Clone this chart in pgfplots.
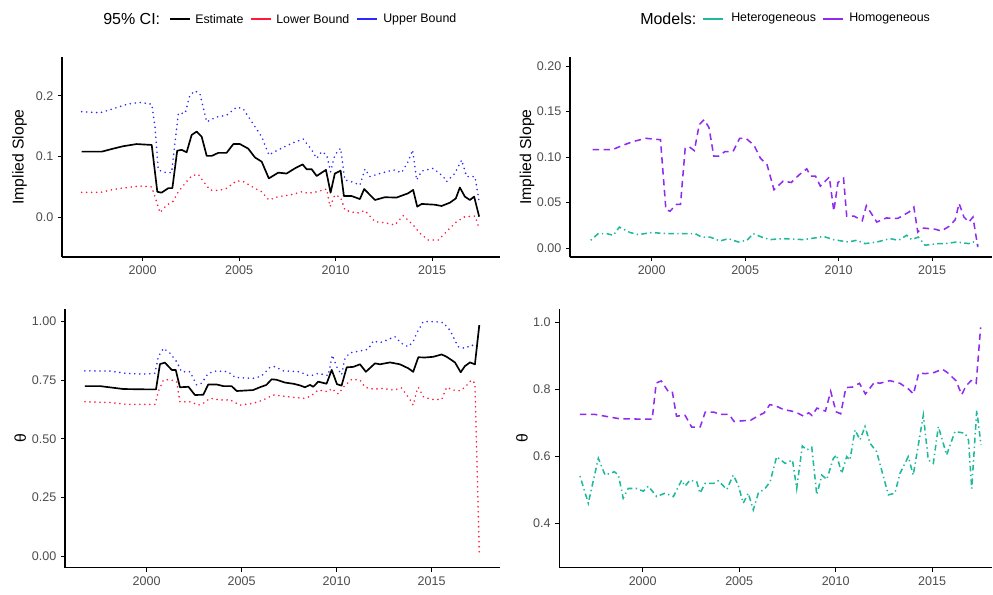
\documentclass[border=0pt]{standalone}
\usepackage{fontspec}
\setmainfont{Liberation Sans}
\usepackage{pgfplots}
\pgfplotsset{compat=1.18}

\definecolor{tickgray}{HTML}{4D4D4D}
\definecolor{cired}{HTML}{FF1A3C}
\definecolor{ciblue}{HTML}{2A2AFF}
\definecolor{hetero}{HTML}{1DB99A}
\definecolor{homo}{HTML}{8F2BF0}

\pgfplotsset{
  panel/.style={
    scale only axis,
    anchor=south west,
    axis x line*=bottom, axis y line*=left,
    axis line style={-, black, line width=0.9pt},
    tick align=outside,
    major tick length=3pt,
    tick style={black, line width=0.7pt},
    xtick={2000,2005,2010,2015},
    xticklabels={2000,2005,2010,2015},
    tick label style={font=\fontsize{9.4}{10}\selectfont, text=tickgray},
    label style={font=\fontsize{11.8}{13}\selectfont},
  },
  est/.style={black, line width=1.25pt, line join=round},
  cidot/.style={line width=1.35pt, line cap=round, dash pattern=on 0pt off 3.75pt},
  homline/.style={homo, line width=1.15pt, dash pattern=on 4.8pt off 3.4pt},
  hetline/.style={hetero, line width=1.15pt, dash pattern=on 1pt off 2.5pt on 4.2pt off 2.5pt},
}

\begin{document}
\begin{tikzpicture}
\useasboundingbox (0,0) rectangle (744.75pt,445.5pt);

% ---------- legends ----------
\begin{scope}[every node/.style={inner sep=0pt, anchor=west}]
  \node at (77.25pt,431.25pt) {\fontsize{12}{14}\selectfont 95\% CI:};
  \draw[black, line width=1.2pt] (127.5pt,431.25pt) -- (142.5pt,431.25pt);
  \node at (146.25pt,431.25pt) {\fontsize{9.3}{11}\selectfont Estimate};
  \draw[cired, line width=1.2pt] (188.25pt,431.25pt) -- (203.25pt,431.25pt);
  \node at (207pt,431.25pt) {\fontsize{9.3}{11}\selectfont Lower Bound};
  \draw[ciblue, line width=1.2pt] (267.75pt,431.25pt) -- (282.75pt,431.25pt);
  \node at (287.25pt,431.25pt) {\fontsize{9.3}{11}\selectfont Upper Bound};

  \node at (480pt,431.25pt) {\fontsize{12}{14}\selectfont Models:};
  \draw[hetero, line width=1.2pt] (527.25pt,431.25pt) -- (542.25pt,431.25pt);
  \node at (548.25pt,431.25pt) {\fontsize{9.3}{11}\selectfont Heterogeneous};
  \draw[homo, line width=1.2pt] (617.25pt,431.25pt) -- (632.25pt,431.25pt);
  \node at (636.75pt,431.25pt) {\fontsize{9.3}{11}\selectfont Homogeneous};
\end{scope}

% ---------- implied slope with confidence band ----------
\begin{axis}[panel,
  at={(46.5pt,252.75pt)}, width=328.5pt, height=150pt,
  xmin=1995.82, xmax=2018.52, ymin=-0.0653, ymax=0.2637,
  ytick={0,0.1,0.2}, yticklabels={0.0,0.1,0.2},
  ylabel={Implied Slope},
  ylabel style={at={(axis description cs:-0.097,0.5)}, anchor=center},
]
\addplot[cidot, ciblue] coordinates {
(1996.84,0.1737) (1997.80,0.172) (1998.50,0.179) (1999.20,0.186) (1999.86,0.189)
(2000.47,0.186) (2000.64,0.149) (2000.81,0.078) (2001.20,0.0735) (2001.50,0.0735)
(2001.85,0.171) (2002.20,0.171) (2002.45,0.201) (2002.71,0.208) (2002.97,0.203)
(2003.32,0.157) (2003.83,0.165) (2004.35,0.168) (2004.87,0.181) (2005.20,0.179)
(2005.82,0.149) (2006.17,0.1325) (2006.54,0.1025) (2007.03,0.111) (2007.55,0.119)
(2007.80,0.1227) (2008.32,0.1288) (2008.76,0.111) (2009.02,0.097) (2009.28,0.108)
(2009.54,0.1025) (2009.74,0.075) (2009.96,0.1025) (2010.26,0.1135) (2010.48,0.0615)
(2010.83,0.0585) (2011.26,0.053) (2011.52,0.0795) (2011.78,0.067) (2012.30,0.072)
(2012.99,0.078) (2013.42,0.0735) (2013.76,0.0915) (2013.99,0.1107) (2014.20,0.0614)
(2014.46,0.076) (2015.06,0.0805) (2015.58,0.067) (2015.75,0.0586) (2016.18,0.0724)
(2016.53,0.0942) (2016.79,0.067) (2017.05,0.067) (2017.22,0.067) (2017.44,0.026)
};
\addplot[cidot, cired] coordinates {
(1996.84,0.041) (1997.80,0.041) (1998.50,0.046) (1999.20,0.049) (1999.86,0.0515)
(2000.47,0.050) (2000.72,0.0257) (2000.90,0.0076) (2001.24,0.020) (2001.56,0.0257)
(2001.85,0.042) (2002.20,0.056) (2002.54,0.068) (2002.88,0.071) (2003.10,0.061)
(2003.49,0.045) (2003.92,0.044) (2004.35,0.0477) (2004.87,0.060) (2005.20,0.059)
(2005.73,0.0493) (2006.17,0.042) (2006.54,0.0285) (2007.03,0.034) (2007.63,0.0367)
(2008.24,0.042) (2008.59,0.0395) (2009.02,0.042) (2009.54,0.0465) (2009.71,0.0175)
(2009.96,0.0367) (2010.26,0.033) (2010.48,0.012) (2011.09,0.0066) (2011.52,0.011)
(2012.04,-0.0072) (2012.55,-0.0089) (2013.07,-0.0127) (2013.50,0.0027) (2014.02,-0.0127)
(2014.37,-0.0263) (2014.80,-0.0373) (2015.32,-0.0373) (2015.58,-0.029) (2015.92,-0.018)
(2016.27,-0.0072) (2016.70,0.001) (2017.22,0.002) (2017.44,-0.018)
};
\addplot[est] coordinates {
(1996.84,0.108) (1997.88,0.108) (1998.48,0.113) (1999.00,0.117) (1999.69,0.1205)
(2000.47,0.119) (2000.76,0.042) (2000.98,0.0405) (2001.33,0.048) (2001.54,0.048)
(2001.79,0.1095) (2002.02,0.111) (2002.28,0.107) (2002.54,0.1355) (2002.80,0.141)
(2003.06,0.1325) (2003.32,0.101) (2003.58,0.101) (2003.92,0.106) (2004.35,0.106)
(2004.70,0.1205) (2005.04,0.1205) (2005.47,0.113) (2005.82,0.0985) (2006.17,0.0915)
(2006.54,0.064) (2007.03,0.0735) (2007.46,0.072) (2007.89,0.0805) (2008.29,0.087)
(2008.50,0.079) (2008.76,0.079) (2009.02,0.068) (2009.50,0.078) (2009.74,0.0405)
(2009.96,0.072) (2010.26,0.0767) (2010.43,0.035) (2010.83,0.035) (2011.26,0.030)
(2011.48,0.0465) (2012.04,0.0285) (2012.55,0.033) (2013.16,0.0325) (2013.76,0.0395)
(2014.02,0.045) (2014.23,0.0175) (2014.46,0.022) (2015.15,0.0207) (2015.49,0.0186)
(2015.92,0.024) (2016.23,0.031) (2016.44,0.049) (2016.70,0.034) (2016.96,0.0285)
(2017.18,0.034) (2017.44,0.001)
};
\end{axis}

% ---------- implied slope by model ----------
\begin{axis}[panel,
  at={(427.5pt,252.75pt)}, width=316.5pt, height=150pt,
  xmin=1995.63, xmax=2018.2, ymin=-0.0099, ymax=0.2099,
  ytick={0,0.05,0.1,0.15,0.2}, yticklabels={0.00,0.05,0.10,0.15,0.20},
  ylabel={Implied Slope},
  ylabel style={at={(axis description cs:-0.102,0.5)}, anchor=center},
]
\addplot[hetline] coordinates {
(1996.74,0.0085) (1997.14,0.0158) (1997.59,0.0158) (1997.95,0.014) (1998.27,0.023)
(1998.84,0.017) (1999.28,0.0147) (2000.00,0.017) (2000.80,0.0158) (2001.70,0.0158)
(2002.32,0.0158) (2002.67,0.012) (2003.12,0.012) (2003.65,0.0077) (2004.10,0.0103)
(2004.63,0.0066) (2005.10,0.0085) (2005.43,0.0158) (2005.88,0.012) (2006.33,0.0092)
(2007.00,0.0103) (2008.11,0.0092) (2008.85,0.0114) (2009.18,0.0128) (2009.70,0.0092)
(2010.51,0.0066) (2010.97,0.0085) (2011.41,0.0048) (2012.05,0.0066) (2012.74,0.0103)
(2013.20,0.0085) (2013.64,0.014) (2013.90,0.0092) (2014.26,0.012) (2014.62,0.003)
(2015.24,0.0048) (2015.70,0.0048) (2016.31,0.0066) (2016.95,0.0048) (2017.20,0.0066)
(2017.47,0.003)
};
\addplot[homline] coordinates {
(1996.84,0.108) (1997.88,0.108) (1998.48,0.113) (1999.00,0.117) (1999.69,0.1205)
(2000.47,0.119) (2000.76,0.042) (2000.98,0.0405) (2001.33,0.048) (2001.54,0.048)
(2001.79,0.1095) (2002.02,0.111) (2002.28,0.107) (2002.54,0.1355) (2002.80,0.141)
(2003.06,0.1325) (2003.32,0.101) (2003.58,0.101) (2003.92,0.106) (2004.35,0.106)
(2004.70,0.1205) (2005.04,0.1205) (2005.47,0.113) (2005.82,0.0985) (2006.17,0.0915)
(2006.54,0.064) (2007.03,0.0735) (2007.46,0.072) (2007.89,0.0805) (2008.29,0.087)
(2008.50,0.079) (2008.76,0.079) (2009.02,0.068) (2009.50,0.078) (2009.74,0.0405)
(2009.96,0.072) (2010.26,0.0767) (2010.43,0.035) (2010.83,0.035) (2011.26,0.030)
(2011.48,0.0465) (2012.04,0.0285) (2012.55,0.033) (2013.16,0.0325) (2013.76,0.0395)
(2014.02,0.045) (2014.23,0.0175) (2014.46,0.022) (2015.15,0.0207) (2015.49,0.0186)
(2015.92,0.024) (2016.23,0.031) (2016.44,0.049) (2016.70,0.034) (2016.96,0.0285)
(2017.18,0.034) (2017.44,0.001)
};
\end{axis}

% ---------- theta with confidence band ----------
\begin{axis}[panel,
  at={(48.75pt,19.7pt)}, width=326.25pt, height=193.8pt,
  xmin=1995.70, xmax=2018.6, ymin=-0.05, ymax=1.0525,
  ytick={0,0.25,0.5,0.75,1}, yticklabels={0.00,0.25,0.50,0.75,1.00},
  ylabel={θ},
  ylabel style={at={(axis description cs:-0.103,0.5)}, anchor=center},
]
\addplot[cidot, ciblue] coordinates {
(1996.75,0.790) (1998.07,0.789) (1998.95,0.779) (2000.00,0.776) (2000.44,0.780)
(2000.61,0.850) (2000.88,0.886) (2001.23,0.865) (2001.58,0.829) (2001.84,0.786)
(2002.28,0.786) (2002.63,0.730) (2002.89,0.737) (2003.24,0.779) (2003.68,0.790)
(2004.30,0.786) (2004.65,0.762) (2005.60,0.758) (2006.05,0.768) (2006.49,0.805)
(2006.75,0.808) (2007.19,0.790) (2008.07,0.786) (2008.42,0.772) (2008.68,0.770)
(2009.03,0.779) (2009.56,0.770) (2009.77,0.857) (2010.00,0.808) (2010.26,0.773)
(2010.44,0.843) (2010.70,0.867) (2011.23,0.875) (2011.66,0.882) (2011.93,0.918)
(2012.28,0.910) (2012.63,0.921) (2013.07,0.936) (2013.42,0.907) (2013.77,0.893)
(2014.03,0.915) (2014.21,0.950) (2014.56,1.000) (2015.18,1.000) (2015.62,0.995)
(2015.96,0.964) (2016.40,0.893) (2016.75,0.886) (2017.10,0.900) (2017.37,0.893)
(2017.51,0.985)
};
\addplot[cidot, cired] coordinates {
(1996.75,0.658) (1998.07,0.655) (1998.95,0.647) (2000.00,0.647) (2000.44,0.647)
(2000.61,0.701) (2000.88,0.751) (2001.23,0.753) (2001.58,0.744) (2001.75,0.658)
(2002.28,0.658) (2002.72,0.644) (2002.98,0.651) (2003.33,0.673) (2003.86,0.666)
(2004.39,0.666) (2004.91,0.644) (2005.60,0.651) (2006.14,0.666) (2006.67,0.687)
(2007.19,0.682) (2007.72,0.677) (2008.25,0.673) (2008.60,0.680) (2009.03,0.708)
(2009.56,0.701) (2009.74,0.715) (2010.09,0.691) (2010.35,0.720) (2010.79,0.754)
(2011.23,0.751) (2011.49,0.720) (2011.93,0.712) (2012.46,0.715) (2012.98,0.708)
(2013.42,0.717) (2013.86,0.668) (2014.03,0.644) (2014.21,0.701) (2014.30,0.720)
(2014.56,0.680) (2015.00,0.668) (2015.53,0.668) (2015.79,0.720) (2016.14,0.708)
(2016.49,0.705) (2016.75,0.720) (2017.10,0.751) (2017.28,0.737) (2017.51,0.014)
};
\addplot[est] coordinates {
(1996.75,0.725) (1997.54,0.725) (1998.77,0.7125) (2000.00,0.711) (2000.49,0.711)
(2000.70,0.819) (2000.96,0.825) (2001.32,0.794) (2001.53,0.794) (2001.75,0.720)
(2002.20,0.722) (2002.54,0.687) (2002.98,0.688) (2003.24,0.732) (2003.68,0.732)
(2004.03,0.725) (2004.47,0.725) (2004.74,0.704) (2005.60,0.708) (2005.96,0.720)
(2006.30,0.730) (2006.58,0.754) (2006.84,0.752) (2007.28,0.740) (2007.72,0.735)
(2008.07,0.728) (2008.33,0.720) (2008.60,0.730) (2008.77,0.722) (2009.03,0.744)
(2009.47,0.735) (2009.74,0.794) (2010.02,0.733) (2010.26,0.727) (2010.53,0.805)
(2010.88,0.807) (2011.23,0.818) (2011.54,0.786) (2012.02,0.822) (2012.28,0.818)
(2012.81,0.826) (2013.33,0.818) (2013.77,0.801) (2014.03,0.786) (2014.30,0.848)
(2014.65,0.847) (2015.09,0.850) (2015.53,0.860) (2015.79,0.850) (2016.23,0.826)
(2016.53,0.784) (2016.75,0.810) (2017.02,0.826) (2017.28,0.818) (2017.51,0.985)
};
\end{axis}

% ---------- theta by model ----------
\begin{axis}[panel,
  at={(419.5pt,19.7pt)}, width=324.5pt, height=193.8pt,
  xmin=1995.68, xmax=2018.1, ymin=0.2675, ymax=1.0388,
  ytick={0.4,0.6,0.8,1}, yticklabels={0.4,0.6,0.8,1.0},
  ylabel={θ},
  ylabel style={at={(axis description cs:-0.086,0.5)}, anchor=center},
]
\addplot[hetline] coordinates {
(1996.75,0.541) (1997.18,0.460) (1997.70,0.594) (1998.05,0.544) (1998.53,0.554)
(1998.74,0.544) (1998.99,0.475) (1999.25,0.504) (1999.68,0.504) (2000.03,0.496)
(2000.29,0.511) (2000.72,0.480) (2001.16,0.490) (2001.59,0.480) (2002.02,0.529)
(2002.19,0.511) (2002.45,0.529) (2002.80,0.524) (2002.97,0.490) (2003.23,0.519)
(2003.66,0.519) (2003.92,0.527) (2004.36,0.501) (2004.69,0.544) (2004.95,0.514)
(2005.21,0.460) (2005.47,0.490) (2005.73,0.440) (2005.99,0.490) (2006.34,0.504)
(2006.60,0.524) (2006.94,0.599) (2007.38,0.579) (2007.76,0.589) (2007.98,0.504)
(2008.27,0.631) (2008.50,0.619) (2008.76,0.627) (2009.02,0.485) (2009.28,0.544)
(2009.54,0.531) (2009.88,0.594) (2010.05,0.604) (2010.31,0.549) (2010.57,0.599)
(2010.74,0.589) (2011.00,0.679) (2011.26,0.649) (2011.52,0.689) (2011.78,0.639)
(2012.12,0.614) (2012.73,0.485) (2013.07,0.490) (2013.33,0.549) (2013.76,0.599)
(2014.02,0.544) (2014.54,0.723) (2014.80,0.589) (2015.06,0.579) (2015.32,0.689)
(2015.75,0.604) (2016.18,0.674) (2016.70,0.669) (2016.88,0.649) (2017.05,0.504)
(2017.31,0.738) (2017.53,0.634)
};
\addplot[homline] coordinates {
(1996.75,0.725) (1997.54,0.725) (1998.77,0.7125) (2000.00,0.711) (2000.49,0.711)
(2000.70,0.819) (2000.96,0.825) (2001.32,0.794) (2001.53,0.794) (2001.75,0.720)
(2002.20,0.722) (2002.54,0.687) (2002.98,0.688) (2003.24,0.732) (2003.68,0.732)
(2004.03,0.725) (2004.47,0.725) (2004.74,0.704) (2005.60,0.708) (2005.96,0.720)
(2006.30,0.730) (2006.58,0.754) (2006.84,0.752) (2007.28,0.740) (2007.72,0.735)
(2008.07,0.728) (2008.33,0.720) (2008.60,0.730) (2008.77,0.722) (2009.03,0.744)
(2009.47,0.735) (2009.74,0.794) (2010.02,0.733) (2010.26,0.727) (2010.53,0.805)
(2010.88,0.807) (2011.23,0.818) (2011.54,0.786) (2012.02,0.822) (2012.28,0.818)
(2012.81,0.826) (2013.33,0.818) (2013.77,0.801) (2014.03,0.786) (2014.30,0.848)
(2014.65,0.847) (2015.09,0.850) (2015.53,0.860) (2015.79,0.850) (2016.23,0.826)
(2016.53,0.784) (2016.75,0.810) (2017.02,0.826) (2017.28,0.818) (2017.51,0.985)
};
\end{axis}
\end{tikzpicture}
\end{document}
